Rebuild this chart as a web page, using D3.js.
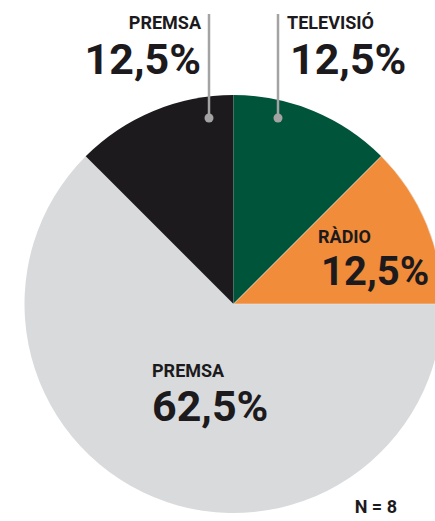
<html lang="ca">
<head>
<meta charset="utf-8">
<script src="https://cdn.jsdelivr.net/npm/d3@7"></script>
<style>
  body { margin: 0; background: #fff; }
  text { font-family: Roboto, "Liberation Sans", sans-serif; font-weight: 700; fill: #1c1a1d; }
  .cat { font-size: 18px; }
  .pct { font-size: 43px; font-weight: 700; }
  .leader { stroke: #a3a3a3; stroke-width: 2.5; fill: none; }
</style>
</head>
<body>
<div id="chart"></div>
<script>
// data
var categories = ["PREMSA", "PREMSA", "TELEVISIÓ", "RÀDIO"];
var values = [62.5, 12.5, 12.5, 12.5];
var colors = ["#d9dadc", "#1c1a1d", "#00543a", "#f08c3a"];
var pctLabels = ["62,5%", "12,5%", "12,5%", "12,5%"];
var nLabel = "N = 8";

var width = 435, height = 521;
var cx = 233.5, cy = 304, r = 209;

var svg = d3.select("#chart").append("svg")
    .attr("width", width)
    .attr("height", height);

var pie = d3.pie()
    .sort(null)
    .value(function(d) { return d; })
    .startAngle(Math.PI / 2)
    .endAngle(Math.PI / 2 + 2 * Math.PI);

var arc = d3.arc().innerRadius(0).outerRadius(r);

var g = svg.append("g").attr("transform", "translate(" + cx + "," + cy + ")");

g.selectAll("path")
  .data(pie(values))
  .enter().append("path")
  .attr("d", arc)
  .attr("fill", function(d, i) { return colors[i]; })
  .attr("stroke", function(d, i) { return i == 3 ? "#e8e8e8" : "none"; })
  .attr("stroke-width", 0.6);

// label layout (text anchor, x, y of category / percentage)
var labels = [
  {anchor: "start", x: 152, y1: 377, y2: 421},
  {anchor: "end",   x: 201, y1: 29,  y2: 74},
  {anchor: "start", x: 287, y1: 29,  y2: 74, px: 290},
  {anchor: "start", x: 318, y1: 243, y2: 285, px: 321, size: 40}
];

labels.forEach(function(l, i) {
  svg.append("text")
    .attr("class", "cat")
    .attr("x", l.x).attr("y", l.y1)
    .attr("text-anchor", l.anchor)
    .text(categories[i]);
  svg.append("text")
    .attr("class", "pct")
    .attr("x", l.px || l.x).attr("y", l.y2)
    .attr("text-anchor", l.anchor)
    .style("font-size", (l.size || 43) + "px")
    .text(pctLabels[i]);
});

// leader lines for the two small top slices
var leaders = [{x: 209, y0: 14, y1: 118}, {x: 278, y0: 14, y1: 118}];
leaders.forEach(function(d) {
  svg.append("line").attr("class", "leader")
    .attr("x1", d.x).attr("x2", d.x)
    .attr("y1", d.y0).attr("y2", d.y1);
  svg.append("circle")
    .attr("cx", d.x).attr("cy", d.y1).attr("r", 4.5)
    .attr("fill", "#a3a3a3");
});

svg.append("text")
  .attr("class", "cat")
  .attr("x", 397).attr("y", 513)
  .attr("text-anchor", "end")
  .text(nLabel);
</script>
</body>
</html>
